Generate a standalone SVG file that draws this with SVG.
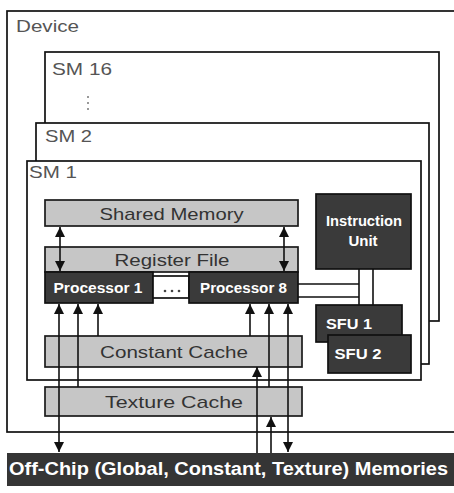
<svg xmlns="http://www.w3.org/2000/svg" width="454" height="493" viewBox="0 0 454 493">
<defs>
<style>
.frame{fill:#fff;stroke:#111;stroke-width:1.7}
.light{fill:#c6c6c6;stroke:#1a1a1a;stroke-width:1.7}
.dark{fill:#3a3a3a;stroke:#111;stroke-width:1.7}
.lbl{font-family:"Liberation Sans",Arial,sans-serif;font-size:17px;fill:#555}
.ltx{font-family:"Liberation Sans",Arial,sans-serif;font-size:17px;fill:#333}
.wtx{font-family:"Liberation Sans",Arial,sans-serif;font-size:14px;font-weight:bold;fill:#fff}
.ln{stroke:#111;stroke-width:1.6;fill:none}
.ar{stroke:#111;stroke-width:1.6;fill:none;marker-end:url(#ah)}
.ar2{stroke:#111;stroke-width:1.6;fill:none;marker-end:url(#ah);marker-start:url(#ah)}
</style>
<marker id="ah" viewBox="0 0 10 10" refX="10" refY="5" markerUnits="userSpaceOnUse" markerWidth="11" markerHeight="10" orient="auto-start-reverse">
<path d="M0,0 L10,5 L0,10 z" fill="#111"/>
</marker>
</defs>

<g id="device">
<rect class="frame" x="7" y="11" width="460" height="421"/>
<text class="lbl" x="16" y="32" textLength="63" lengthAdjust="spacingAndGlyphs">Device</text>
</g>

<g id="sm16">
<rect class="frame" x="45" y="52" width="394" height="269"/>
<text class="lbl" x="52" y="75" textLength="60" lengthAdjust="spacingAndGlyphs">SM 16</text>
<circle cx="88" cy="97" r="1" fill="#777"/>
<circle cx="88" cy="103" r="1" fill="#777"/>
<circle cx="88" cy="109" r="1" fill="#777"/>
</g>

<g id="sm2">
<rect class="frame" x="36" y="123" width="393" height="241"/>
<text class="lbl" x="45" y="142" textLength="47" lengthAdjust="spacingAndGlyphs">SM 2</text>
</g>

<g id="sm1">
<rect class="frame" x="27" y="161" width="394" height="219"/>
<text class="lbl" x="29" y="178" textLength="48" lengthAdjust="spacingAndGlyphs">SM 1</text>
</g>

<g id="shared-memory">
<rect class="light" x="45" y="200" width="253" height="26"/>
<text class="ltx" x="171.5" y="220" text-anchor="middle" textLength="144" lengthAdjust="spacingAndGlyphs">Shared Memory</text>
</g>

<g id="register-file">
<rect class="light" x="45" y="247" width="253" height="25"/>
<text class="ltx" x="172" y="266" text-anchor="middle" textLength="115" lengthAdjust="spacingAndGlyphs">Register File</text>
</g>

<g id="processor-1">
<rect class="dark" x="45" y="272" width="108" height="31"/>
<text class="wtx" x="98" y="293" text-anchor="middle" textLength="89" lengthAdjust="spacingAndGlyphs">Processor 1</text>
</g>

<g id="ellipsis">
<rect class="frame" x="153" y="276" width="36" height="22"/>
<circle cx="165" cy="291" r="1.3" fill="#444"/>
<circle cx="172" cy="291" r="1.3" fill="#444"/>
<circle cx="179" cy="291" r="1.3" fill="#444"/>
</g>

<g id="processor-8">
<rect class="dark" x="189" y="272" width="109" height="31"/>
<text class="wtx" x="243.5" y="293" text-anchor="middle" textLength="87" lengthAdjust="spacingAndGlyphs">Processor 8</text>
</g>

<g id="instruction-unit">
<rect class="dark" x="316" y="194" width="95" height="75"/>
<text class="wtx" x="364" y="226" text-anchor="middle" style="font-size:15px" textLength="76" lengthAdjust="spacingAndGlyphs">Instruction</text>
<text class="wtx" x="363" y="246" text-anchor="middle" style="font-size:15px">Unit</text>
</g>

<g id="sfu-1">
<rect class="dark" x="316" y="305" width="86" height="37"/>
<text class="wtx" x="349" y="329" text-anchor="middle" style="font-size:15px" textLength="46" lengthAdjust="spacingAndGlyphs">SFU 1</text>
</g>

<g id="sfu-2">
<rect class="dark" x="328" y="335" width="83" height="38"/>
<text class="wtx" x="358" y="359" text-anchor="middle" style="font-size:15px" textLength="47" lengthAdjust="spacingAndGlyphs">SFU 2</text>
</g>

<g id="constant-cache">
<rect class="light" x="45" y="336" width="257" height="31"/>
<text class="ltx" x="174" y="358" text-anchor="middle" textLength="148" lengthAdjust="spacingAndGlyphs">Constant Cache</text>
</g>

<g id="texture-cache">
<rect class="light" x="45" y="387" width="257" height="29"/>
<text class="ltx" x="174" y="408" text-anchor="middle" textLength="138" lengthAdjust="spacingAndGlyphs">Texture Cache</text>
</g>

<g id="off-chip">
<rect x="7" y="453" width="447" height="33" fill="#353535"/>
<text class="wtx" x="9" y="475" style="font-size:18px" textLength="439" lengthAdjust="spacingAndGlyphs">Off-Chip (Global, Constant, Texture) Memories</text>
</g>

<g id="connectors">
<path class="ar2" d="M60,227 V271"/>
<path class="ar2" d="M284,227 V271"/>
<path class="ar2" d="M59,304 V452"/>
<path class="ar" d="M78,387 V304"/>
<path class="ar" d="M98,336 V304"/>
<path class="ar" d="M250,336 V304"/>
<path class="ar" d="M269,387 V304"/>
<path class="ar2" d="M288,304 V452"/>
<path class="ar" d="M257,453 V367"/>
<path class="ar" d="M271,453 V417"/>
<path class="ln" d="M298,284 H359 M298,297 H359 M359,269 V305 M373,269 V305"/>
</g>
</svg>
